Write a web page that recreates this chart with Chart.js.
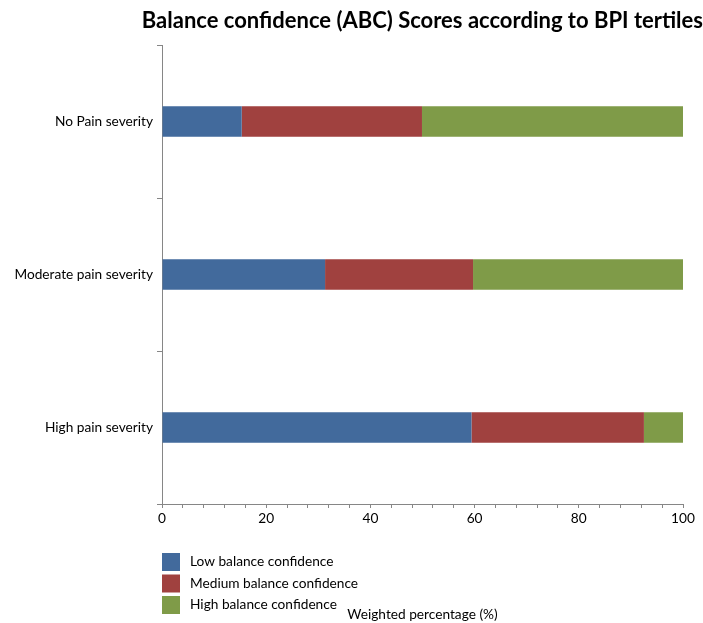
<!DOCTYPE html>
<html lang="en">
<head>
    <meta charset="UTF-8">
    <title>Balance confidence</title>
    <script src="https://cdn.jsdelivr.net/npm/chart.js"></script>
    <style>
        html, body { margin: 0; padding: 0; background: #fff; }
        #wrap { width: 703px; height: 623px; }
    </style>
</head>
<body>
    <div id="wrap">
        <canvas id="myChart" width="703" height="623"></canvas>
    </div>
    <script>
        // data (weighted %)
        var categories = ['No Pain severity', 'Moderate pain severity', 'High pain severity'];
        var seriesNames = ['Low balance confidence', 'Medium balance confidence', 'High balance confidence'];
        var lowValues = [15.3, 31.3, 59.4];
        var mediumValues = [34.6, 28.4, 33.1];
        var highValues = [50.1, 40.3, 7.5];
        var seriesColors = ['#426A9C', '#A0413F', '#7F9B48'];
        var xTickMax = 100;

        var axisGray = '#868686';
        var fontName = 'Lato, "Open Sans", sans-serif';
        var textSize = 13.7;

        // vertical legend under the axis, like the original
        var legendBelow = {
            id: 'legendBelow',
            afterDraw: function (chart) {
                var ctx = chart.ctx;
                var left = chart.chartArea.left;
                var top = chart.chartArea.bottom + 49;
                ctx.save();
                ctx.font = textSize + 'px ' + fontName;
                ctx.textBaseline = 'middle';
                chart.data.datasets.forEach(function (ds, i) {
                    var y = top + i * 21.5;
                    ctx.fillStyle = ds.backgroundColor;
                    ctx.fillRect(left, y, 18, 18);
                    ctx.fillStyle = '#000';
                    ctx.fillText(ds.label, left + 28, y + 9);
                });
                ctx.restore();
            }
        };

        var ctx = document.getElementById('myChart');
        var myChart = new Chart(ctx, {
            type: 'bar',
            data: {
                labels: categories,
                datasets: [
                    { label: seriesNames[0], data: lowValues, backgroundColor: seriesColors[0] },
                    { label: seriesNames[1], data: mediumValues, backgroundColor: seriesColors[1] },
                    { label: seriesNames[2], data: highValues, backgroundColor: seriesColors[2] }
                ]
            },
            options: {
                indexAxis: 'y',
                responsive: false,
                animation: false,
                barPercentage: 1,
                categoryPercentage: 0.2,
                layout: { padding: 0 },
                plugins: {
                    legend: { display: false },
                    tooltip: { enabled: false },
                    title: {
                        display: true,
                        text: 'Balance confidence (ABC) Scores according to BPI tertiles',
                        align: 'end',
                        color: '#000',
                        font: { family: fontName, size: 22, weight: 'bold' },
                        padding: { top: 8, bottom: 10.6 }
                    }
                },
                scales: {
                    x: {
                        stacked: true,
                        min: 0,
                        max: xTickMax,
                        border: { color: axisGray, width: 1 },
                        grid: { drawOnChartArea: false, color: axisGray, tickLength: 4 },
                        ticks: {
                            stepSize: 4,
                            autoSkip: false,
                            maxRotation: 0,
                            padding: 2,
                            color: '#000',
                            font: { family: fontName, size: textSize },
                            callback: function (v) { return v % 20 === 0 ? v : ''; }
                        },
                        title: {
                            display: true,
                            text: 'Weighted percentage (%)',
                            color: '#000',
                            font: { family: fontName, size: textSize },
                            padding: { top: 0, bottom: 0 }
                        },
                        afterFit: function (scale) { scale.height = 119; }
                    },
                    y: {
                        stacked: true,
                        border: { color: axisGray, width: 1 },
                        grid: { drawOnChartArea: false, color: axisGray, tickLength: 5, offset: true },
                        ticks: {
                            padding: 4,
                            color: '#000',
                            font: { family: fontName, size: textSize }
                        },
                        afterFit: function (scale) { scale.width = 162; }
                    },
                    // empty strip on the right so the plot stops short of the edge
                    yRight: {
                        position: 'right',
                        type: 'linear',
                        display: true,
                        border: { display: false },
                        grid: { display: false },
                        ticks: { display: false },
                        afterFit: function (scale) { scale.width = 20; }
                    }
                }
            },
            plugins: [legendBelow]
        });
    </script>
</body>
</html>
